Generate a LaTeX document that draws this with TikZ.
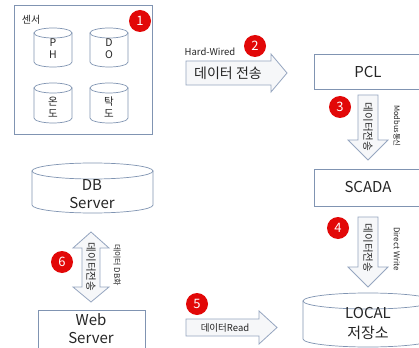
\documentclass[tikz,border=0pt]{standalone}
\usepackage{fontspec}
\setmainfont{Noto Sans CJK KR}
\newcommand\fs[2]{\fontsize{#1}{#2}\selectfont}
\definecolor{edgecol}{RGB}{128,148,178}
\definecolor{arrowcol}{RGB}{150,166,192}
\definecolor{numred}{RGB}{226,8,8}
\definecolor{arrowfill}{RGB}{246,247,249}
\newcommand\mycyl[5]{%
  \filldraw[cylst] (#1,#3+#5) -- (#1,#4-#5) arc[start angle=180,end angle=0,x radius={(#2-#1)/2},y radius=#5] -- (#2,#3+#5) -- cycle;
  \filldraw[cylst] ({(#1+#2)/2},#3+#5) ellipse[x radius={(#2-#1)/2},y radius=#5];}
\begin{document}
\begin{tikzpicture}[x=1pt,y=-1pt,
  box/.style={draw=edgecol,fill=white,line width=0.8pt},
  cylst/.style={draw=edgecol,fill=white,line width=0.7pt},
  blk/.style={draw=arrowcol,fill=arrowfill,line width=0.8pt,line join=miter},
  num/.style={circle,fill=numred,text=white,minimum size=22pt,inner sep=0pt,font=\fs{13}{13}},
  lbl/.style={inner sep=0pt,align=center,text=black!85}]
\useasboundingbox (0,0) rectangle (419,347);
\fill[white] (0,0) rectangle (419,347);

% sensor group
\draw[box] (14,5) rectangle (152,134);
\node[lbl,font=\fs{10}{12}] (sensor) at (31,20) {센서};
\node[num] (n1) at (140,21) {1};
\mycyl{34}{72}{28}{67}{5}
\node[lbl,font=\fs{10.5}{12}] (ph) at (53,49) {P\\H};
\mycyl{90}{128}{28}{67}{5}
\node[lbl,font=\fs{10.5}{12}] (do) at (109,49) {D\\O};
\mycyl{34}{72}{83}{123}{5}
\node[lbl,font=\fs{10.5}{12}] (temp) at (53,107) {온\\도};
\mycyl{90}{128}{83}{123}{5}
\node[lbl,font=\fs{10.5}{12}] (turb) at (109,107) {탁\\도};

% arrow 2
\draw[blk] (186,61) -- (271,61) -- (271,54) -- (287,73) -- (271,92) -- (271,85) -- (186,85) -- cycle;
\node[lbl,font=\fs{14}{16}] (a2) at (228,73) {데이터 전송};
\node[lbl,font=\fs{9.5}{11}] (hw) at (210,52) {Hard-Wired};
\node[num] (n2) at (255,46) {2};

% PCL
\draw[box] (314,54) rectangle (422,89);
\node[lbl,font=\fs{15}{17}] (pcl) at (368,72) {PCL};

% arrow 3
\draw[blk] (358,95) -- (378,95) -- (378,140) -- (388,140) -- (368,160) -- (348,140) -- (358,140) -- cycle;
\node[lbl,font=\fs{10.5}{12},rotate=-90] (a3) at (368,127) {데이터전송};
\node[num] (n3) at (340,107) {3};
\node[lbl,font=\fs{7.5}{9},rotate=-90] (mod) at (397,126) {Modbus통신};

% SCADA
\draw[box] (314,169) rectangle (422,206);
\node[lbl,font=\fs{15}{17}] (scada) at (368,187) {SCADA};

% arrow 4
\draw[blk] (358,217) -- (378,217) -- (378,267) -- (388,267) -- (368,287) -- (348,267) -- (358,267) -- cycle;
\node[lbl,font=\fs{10.5}{12},rotate=-90] (a4) at (368,248) {데이터전송};
\node[num] (n4) at (338,228) {4};
\node[lbl,font=\fs{8}{9},rotate=-90] (dw) at (397,249) {Direct Write};

% LOCAL storage
\mycyl{303}{433}{293}{347}{8}
\node[lbl,font=\fs{15}{20}] (local) at (368,323) {LOCAL\\저장소};

% DB server
\mycyl{32}{153}{163}{213}{8}
\node[lbl,font=\fs{15}{18}] (db) at (92,194) {DB\\Server};

% arrow 6 (double)
\draw[blk] (91,232) -- (109,248) -- (100,248) -- (100,287) -- (109,287) -- (91,302) -- (73,287) -- (82,287) -- (82,248) -- (73,248) -- cycle;
\node[lbl,font=\fs{10.5}{12},rotate=-90] (a6) at (91,267) {데이터전송};
\node[num] (n6) at (62,262) {6};
\node[lbl,font=\fs{8}{9},rotate=-90] (dbh) at (117,265) {데이터 DB화};

% Web server
\draw[box] (38,310) rectangle (145,352);
\node[lbl,font=\fs{15}{18}] (web) at (91,329) {Web\\Server};

% arrow 5
\draw[blk] (186,319) -- (259,319) -- (259,311) -- (277,327.5) -- (259,344) -- (259,336) -- (186,336) -- cycle;
\node[lbl,font=\fs{9.5}{11}] (a5) at (225,328) {데이터Read};
\node[num] (n5) at (197,304) {5};
\end{tikzpicture}
\end{document}
